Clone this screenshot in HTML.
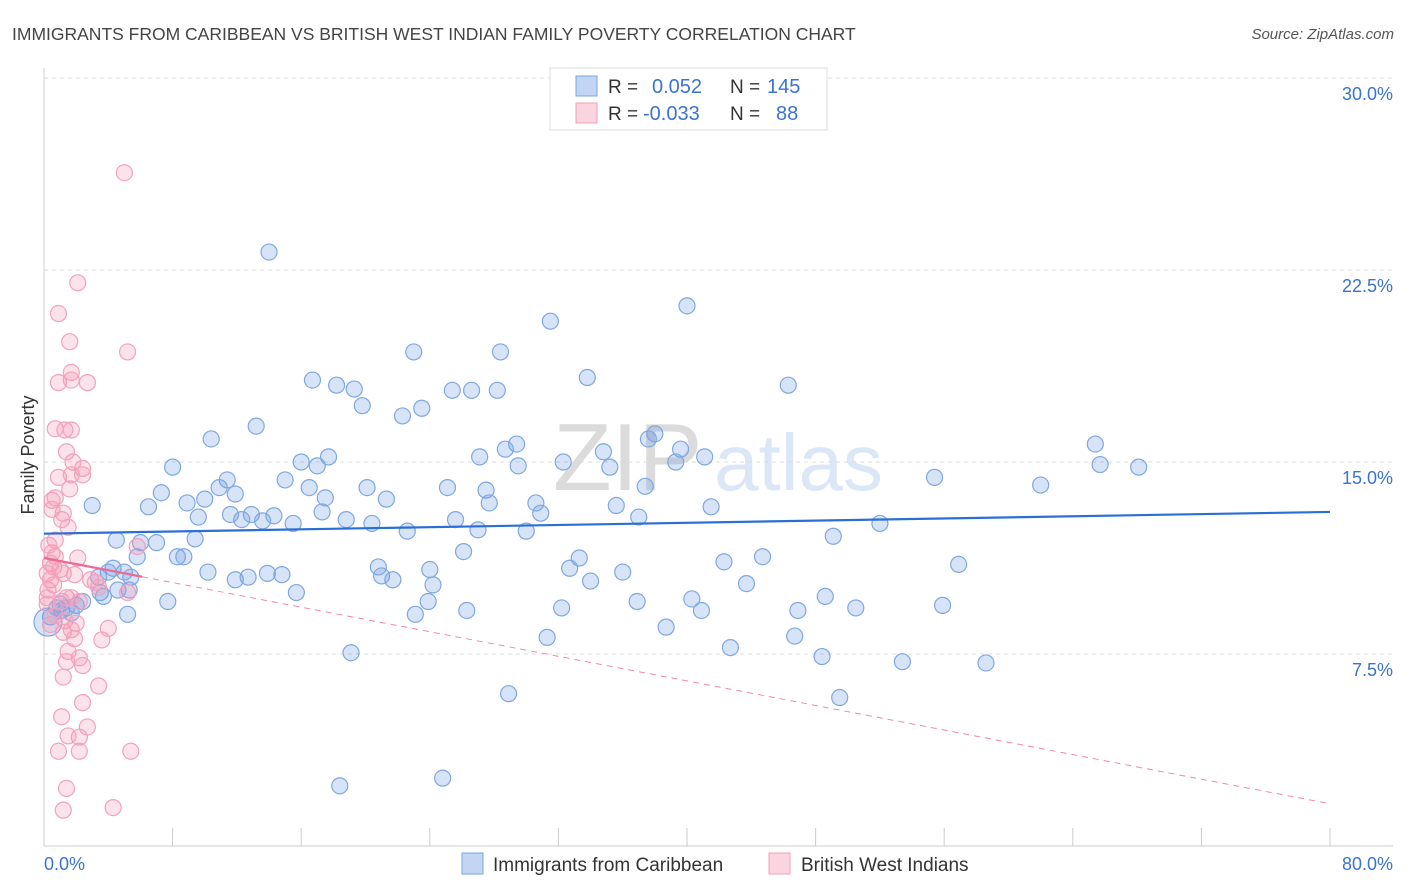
<!DOCTYPE html>
<html><head><meta charset="utf-8">
<style>
body{margin:0;background:#fff;font-family:"Liberation Sans",sans-serif;}
#wrap{position:relative;width:1406px;height:892px;overflow:hidden;}
svg text{font-family:"Liberation Sans",sans-serif;}
</style></head>
<body><div id="wrap">
<svg id="chart" width="1406" height="892">
<text x="12" y="40" font-size="17.5" fill="#444">IMMIGRANTS FROM CARIBBEAN VS BRITISH WEST INDIAN FAMILY POVERTY CORRELATION CHART</text>
<text x="1394" y="39" font-size="15" fill="#555" font-style="italic" text-anchor="end">Source: ZipAtlas.com</text>
<g opacity="0.35">
<text x="553" y="490" font-size="96" fill="#999" font-family="Liberation Serif">ZIP</text>
<text x="714" y="490" font-size="80" fill="#9bbbe6">atlas</text>
</g>
<g id="grid"></g><g id="axes"></g><g id="pts"></g><g id="trend"></g>
<text transform="translate(34,455) rotate(-90)" font-size="18" fill="#333" text-anchor="middle">Family Poverty</text>
<g>
<rect x="550" y="68" width="277" height="62" fill="#fff" stroke="#ddd"/>
<rect x="576" y="76" width="21" height="20" fill="rgba(120,165,230,0.45)" stroke="#7aa6e0"/>
<text x="608" y="93" font-size="19" fill="#333">R =</text>
<text x="652" y="93" font-size="20" fill="#3b73d1">0.052</text>
<text x="730" y="93" font-size="19" fill="#333">N =</text>
<text x="767" y="93" font-size="20" fill="#3b73d1">145</text>
<rect x="576" y="103" width="21" height="20" fill="rgba(245,160,185,0.45)" stroke="#f0a0b8"/>
<text x="608" y="120" font-size="19" fill="#333">R =</text>
<text x="643" y="120" font-size="20" fill="#3b73d1">-0.033</text>
<text x="730" y="120" font-size="19" fill="#333">N =</text>
<text x="776" y="120" font-size="20" fill="#3b73d1">88</text>
</g>
<g>
<rect x="462" y="853" width="21" height="21" fill="rgba(120,165,230,0.45)" stroke="#7aa6e0"/>
<text x="493" y="871" font-size="19" fill="#333">Immigrants from Caribbean</text>
<rect x="769" y="853" width="21" height="21" fill="rgba(245,160,185,0.45)" stroke="#f0a0b8"/>
<text x="801" y="871" font-size="19" fill="#333">British West Indians</text>
</g>
</svg>
<script>
const yTicks=[7.5,15,22.5,30];
const yTickLabels=["7.5%","15.0%","22.5%","30.0%"];
const xTickVals=[0,8,16,24,32,40,48,56,64,72,80];
const xEndLabels=["0.0%","80.0%"];
const blueX=[14.0,40.0,31.5,23.0,28.4,33.8,16.7,18.2,19.3,46.3,25.4,26.6,28.2,19.8,23.5,22.3,13.2,10.4,29.4,38.0,37.6,28.7,39.6,65.4,34.8,41.1,16.0,17.7,27.1,32.3,8.0,17.0,29.5,35.2,39.3,65.7,68.1,55.4,11.4,15.0,62.0,3.0,7.3,10.9,16.5,20.1,25.1,27.5,37.4,8.9,10.0,11.9,17.5,21.3,27.7,30.6,6.5,11.6,12.9,14.3,9.6,12.3,13.6,15.5,17.3,18.8,20.4,25.6,30.9,35.6,37.0,41.5,52.0,22.6,27.0,30.0,49.1,9.4,6.0,7.0,4.5,5.8,8.3,8.7,26.1,33.3,44.7,42.3,56.9,20.8,24.0,32.7,36.0,4.3,5.0,4.0,21.0,21.7,10.2,11.9,12.7,14.8,13.9,3.4,5.4,34.0,24.2,43.7,4.6,3.5,15.7,3.7,5.3,48.6,40.3,36.9,7.7,2.4,1.0,2.0,1.4,1.1,1.7,0.4,0.8,23.9,26.3,32.2,40.9,46.9,50.5,55.9,23.1,5.2,38.7,31.3,46.7,42.7,19.1,48.4,53.4,58.6,28.9,49.5,24.8,18.4,0.25];
const blueY=[23.2,21.1,20.5,19.3,19.3,18.3,18.2,18.0,17.85,18.0,17.8,17.8,17.8,17.2,17.1,16.8,16.4,15.9,15.7,16.1,15.9,15.5,15.5,15.7,15.4,15.2,15.0,15.2,15.2,15.0,14.8,14.85,14.85,14.8,15.0,14.9,14.8,14.4,14.3,14.3,14.1,13.3,13.8,14.0,14.0,14.0,14.0,13.9,14.05,13.4,13.55,13.75,13.6,13.55,13.4,13.4,13.25,12.95,12.95,12.9,12.85,12.75,12.7,12.6,13.05,12.75,12.6,12.75,13.0,13.3,12.85,13.25,12.6,12.3,12.35,12.3,12.1,12.0,11.85,11.85,11.95,11.3,11.3,11.3,11.5,11.25,11.3,11.1,11.0,10.9,10.8,10.85,10.7,10.85,10.7,10.7,10.55,10.4,10.7,10.4,10.5,10.6,10.65,10.5,10.5,10.35,10.2,10.25,10.0,9.9,9.9,9.75,10.0,9.75,9.65,9.55,9.55,9.55,9.45,9.4,9.3,9.2,9.1,8.95,9.3,9.55,9.2,9.3,9.2,9.2,9.3,9.4,9.05,9.05,8.55,8.15,8.2,7.75,7.55,7.4,7.2,7.15,5.95,5.8,2.65,2.35,8.75];
const pinkX=[5.0,2.1,0.9,1.6,5.2,1.7,0.9,1.7,2.7,0.7,1.3,1.7,1.4,1.8,2.4,0.9,2.4,1.7,1.6,0.5,0.7,1.1,1.5,0.5,1.2,0.7,0.5,2.1,0.7,0.4,0.6,1.0,1.2,0.2,1.9,0.4,0.25,0.6,2.9,0.2,3.2,0.2,3.4,5.2,1.1,1.4,1.7,2.2,0.7,1.3,0.4,2.0,1.2,1.7,4.0,1.9,3.6,1.5,2.2,1.4,2.4,1.2,3.4,2.4,1.1,2.7,2.2,1.5,0.9,2.2,5.4,1.4,4.3,1.2,5.8,0.3];
const pinkY=[26.3,22.0,20.8,19.7,19.3,18.5,18.1,18.2,18.1,16.3,16.25,16.25,15.4,15.0,14.75,14.4,14.5,14.5,13.95,13.5,13.6,12.75,12.45,13.15,13.0,11.95,11.45,11.25,11.3,11.05,10.9,10.8,10.65,10.65,10.6,10.4,10.0,10.2,10.4,9.7,10.3,9.45,10.1,9.9,9.55,9.7,9.7,9.55,9.0,8.8,8.65,8.7,8.35,8.45,8.5,8.1,8.05,7.6,7.35,7.2,7.05,6.6,6.25,5.6,5.05,4.65,4.25,4.3,3.7,3.7,3.7,2.25,1.5,1.4,11.7,11.75];
const blueTrend=[12.2,13.05];
const pinkTrend=[11.25,1.65];
const pinkSolidEnd=6.1;

const X0=44,X1=1330,Y0=846,Y30=78;
function sx(v){return X0+(X1-X0)*v/80;}
function sy(v){return Y0-(Y0-Y30)*v/30;}
const NS="http://www.w3.org/2000/svg";
function mk(tag,attrs,parent){const e=document.createElementNS(NS,tag);for(const k in attrs)e.setAttribute(k,attrs[k]);parent.appendChild(e);return e;}
const grid=document.getElementById('grid'),axes=document.getElementById('axes'),pts=document.getElementById('pts'),trend=document.getElementById('trend');
yTicks.forEach((t,i)=>{
  const l=mk('line',{x1:X0,x2:1393,y1:sy(t),y2:sy(t),stroke:'#ddd','stroke-dasharray':'4,4'},grid);
  
  
  const tx=mk('text',{x:1393,y:sy(t)+22,'font-size':18,fill:'#3b73d1','text-anchor':'end'},axes);
  tx.textContent=yTickLabels[i];
  
  
});
const al=mk('line',{x1:X0,x2:X0,y1:68,y2:Y0,stroke:'#ccc'},axes);


const bl=mk('line',{x1:X0,x2:1393,y1:Y0,y2:Y0,stroke:'#ccc'},axes);


xTickVals.forEach(v=>{
  const t=mk('line',{x1:sx(v),x2:sx(v),y1:828,y2:Y0,stroke:'#ccc'},axes);
  
  
});
const xl0=mk('text',{x:44,y:870,'font-size':18,fill:'#3b73d1'},axes);
xl0.textContent=xEndLabels[0];


const xl1=mk('text',{x:1393,y:870,'font-size':18,fill:'#3b73d1','text-anchor':'end'},axes);
xl1.textContent=xEndLabels[1];


blueX.forEach((v,i)=>{
  const big=(i===blueX.length-1);
  const c=mk('circle',{cx:sx(v),cy:sy(blueY[i]),r:big?14:8,fill:'rgba(110,155,225,0.28)',stroke:'#7ea8e2','stroke-width':1.2},pts);
  
  
});
pinkX.forEach((v,i)=>{
  const c=mk('circle',{cx:sx(v),cy:sy(pinkY[i]),r:8,fill:'rgba(245,150,180,0.28)',stroke:'#f2a2bc','stroke-width':1.2},pts);
  
  
});
const bt=mk('line',{x1:sx(0),y1:sy(blueTrend[0]),x2:sx(80),y2:sy(blueTrend[1]),stroke:'#2a6fd6','stroke-width':2.2},trend);


const pAt=v=>pinkTrend[0]+(pinkTrend[1]-pinkTrend[0])*v/80;
const pd=mk('line',{x1:sx(pinkSolidEnd),y1:sy(pAt(pinkSolidEnd)),x2:sx(80),y2:sy(pinkTrend[1]),stroke:'#f08aaa','stroke-width':1,'stroke-dasharray':'6,5'},trend);


const ps=mk('line',{x1:sx(0),y1:sy(pinkTrend[0]),x2:sx(pinkSolidEnd),y2:sy(pAt(pinkSolidEnd)),stroke:'#ec6a94','stroke-width':2.2},trend);


</script>
</div></body></html>
